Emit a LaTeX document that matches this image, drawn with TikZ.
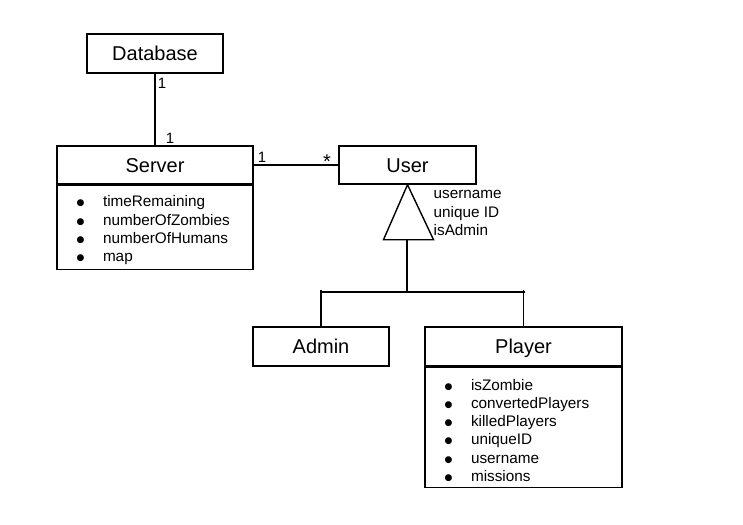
\documentclass[tikz,border=0pt]{standalone}
\usepackage{fontspec}
\setmainfont{Liberation Sans}
\newfontfamily\dotfont{DejaVu Sans}
\usetikzlibrary{positioning}

\newcommand\attritem[1]{\makebox[25pt][l]{\hspace{-1.5pt}\raisebox{1pt}{\dotfont\fontsize{9}{9}\selectfont ●}}#1}

\begin{document}
\begin{tikzpicture}[x=1pt, y=-1pt,
    line width=1.4pt,
    classname/.style={draw, rectangle, inner sep=0pt, text height=14.4pt, text depth=0pt,
      font=\fontsize{20}{24}\selectfont},
    attrlist/.style={draw, rectangle, anchor=north, inner xsep=21pt, inner ysep=0pt,
      align=left, font=\fontsize{15.3}{18.3}\selectfont},
    mult/.style={inner sep=0pt, font=\fontsize{15}{17}\selectfont},
  ]
  \useasboundingbox (0,0) rectangle (743,524);
  % classes
  \node[classname, minimum width=136, minimum height=39] (db) at (155,53.5) {Database};
  \node[classname, minimum width=196, minimum height=38] (server) at (155,165) {Server};
  \node[attrlist, text width=154, minimum height=84] (serverattr) at (server.south)
    {\rule{0pt}{17pt}\attritem{timeRemaining}\\ \attritem{numberOfZombies}\\
     \attritem{numberOfHumans}\\ \attritem{map}};
  \node[classname, minimum width=137, minimum height=38] (user) at (407.5,165) {User};
  \node[classname, minimum width=136, minimum height=39] (admin) at (321,346.5) {Admin};
  \node[classname, minimum width=197, minimum height=39] (player) at (523.5,346.5) {Player};
  \node[attrlist, text width=155, minimum height=120] (playerattr) at (player.south)
    {\rule{0pt}{17pt}\attritem{isZombie}\\ \attritem{convertedPlayers}\\ \attritem{killedPlayers}\\
     \attritem{uniqueID}\\ \attritem{username}\\ \attritem{missions}};

  % associations
  \draw (db) -- (server);
  \draw (server) -- (user);
  \node[mult] (dbone) at (162,83) {1};
  \node[mult] (serverone) at (170,138) {1};
  \node[mult] (serverright) at (262,157) {1};
  \node[mult, font=\fontsize{20}{20}\selectfont] (userstar) at (327,162) {*};

  % generalization
  \draw (user.south) -- ++(-24,55) coordinate (baseleft) -- ++(50,0) coordinate (baseright) -- cycle;
  \coordinate (base) at (407,239);
  \coordinate (split) at (407,292);
  \draw (base) -- (split);
  \draw (322,292) -- (525,292);
  \draw (admin.north) -- (admin.north |- 0,290);
  \draw (player.north) -- (player.north |- 0,290);
  \node[anchor=west, inner sep=0pt, align=left, font=\fontsize{15.3}{18.3}\selectfont] (userattr)
    at (433,213) {username\\unique ID\\isAdmin};
\end{tikzpicture}
\end{document}
